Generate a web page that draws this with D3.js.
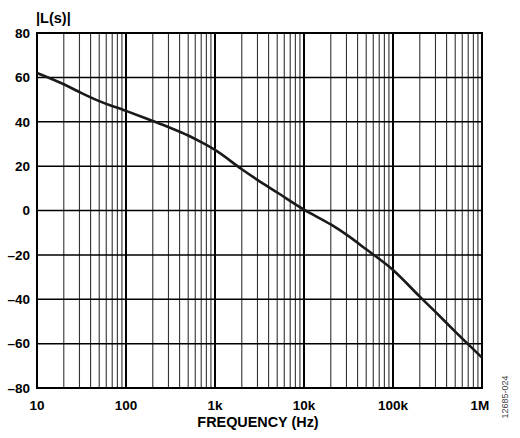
<!DOCTYPE html>
<html><head><meta charset="utf-8">
<script src="https://cdn.jsdelivr.net/npm/d3@7"></script>
<style>
html,body{margin:0;padding:0;background:#fff;}
svg text{font-family:"Liberation Sans",Arial,sans-serif;font-weight:bold;fill:#000;}
</style></head>
<body><svg id="c" width="520" height="438"></svg>
<script>
const freqs = [10, 20, 30, 50, 100, 200, 300, 500, 700, 1000, 2000, 3000, 5000, 10000, 20000, 30000, 50000, 100000, 200000, 300000, 500000, 1000000];
const magDb = [62.0, 56.9, 53.4, 49.3, 44.9, 40.3, 37.6, 33.8, 30.8, 27.3, 18.6, 13.8, 8.1, 0.4, -6.3, -10.9, -17.5, -26.8, -38.8, -45.7, -54.6, -66.3];
const xTickVals = [10, 100, 1000, 10000, 100000, 1000000];
const xTickLabels = ["10", "100", "1k", "10k", "100k", "1M"];
const yTickVals = [80, 60, 40, 20, 0, -20, -40, -60, -80];

const L = 37, R = 482, T = 33, B = 388;
const svg = d3.select("#c");
const x = d3.scaleLog().domain([10, 1e6]).range([L, R]);
const y = d3.scaleLinear().domain([-80, 80]).range([B, T]);

// minor vertical grid
const minor = [];
for (let d = 10; d < 1e6; d *= 10) for (let k = 2; k <= 9; k++) minor.push(d * k);
svg.append("g").selectAll("line").data(minor).join("line")
  .attr("x1", d => x(d)).attr("x2", d => x(d)).attr("y1", T).attr("y2", B)
  .attr("stroke", "#333").attr("stroke-width", 1.1);
// decade lines
svg.append("g").selectAll("line").data(xTickVals.slice(1, -1)).join("line")
  .attr("x1", d => x(d)).attr("x2", d => x(d)).attr("y1", T).attr("y2", B)
  .attr("stroke", "#000").attr("stroke-width", 2);
// horizontal grid
svg.append("g").selectAll("line").data(yTickVals.slice(1, -1)).join("line")
  .attr("x1", L).attr("x2", R).attr("y1", d => y(d)).attr("y2", d => y(d))
  .attr("stroke", "#000").attr("stroke-width", 1.5);
// frame
svg.append("rect").attr("x", L).attr("y", T).attr("width", R - L).attr("height", B - T)
  .attr("fill", "none").attr("stroke", "#000").attr("stroke-width", 2);

// curve
const pts = freqs.map((f, i) => [f, magDb[i]]);
const lineGen = d3.line().x(d => x(d[0])).y(d => y(d[1])).curve(d3.curveMonotoneX);
svg.append("path").datum(pts)
  .attr("d", lineGen)
  .attr("fill", "none").attr("stroke", "#1a1a1a").attr("stroke-width", 2.6).attr("stroke-linejoin", "round");

// y tick labels
svg.append("g").selectAll("text").data(yTickVals).join("text")
  .attr("x", 30).attr("y", d => y(d) + 4.8).attr("text-anchor", "end")
  .attr("font-size", 13.5)
  .text(d => d < 0 ? "\u2013" + Math.abs(d) : String(d));
// x tick labels
svg.append("g").selectAll("text").data(xTickVals).join("text")
  .attr("x", (d, i) => x(d) + (i === xTickVals.length - 1 ? -2 : 0)).attr("y", 410).attr("text-anchor", "middle")
  .attr("font-size", 13.5)
  .text((d, i) => xTickLabels[i]);

svg.append("text").attr("x", 258).attr("y", 427).attr("text-anchor", "middle")
  .attr("font-size", 14.4).text("FREQUENCY (Hz)");
svg.append("text").attr("x", 36).attr("y", 23).attr("font-size", 14.5).text("|L(s)|");
svg.append("text").attr("transform", "translate(508,397) rotate(-90)").attr("text-anchor", "middle")
  .attr("font-size", 9).style("font-weight", "normal").style("fill", "#444").text("12685-024");
</script></body></html>
